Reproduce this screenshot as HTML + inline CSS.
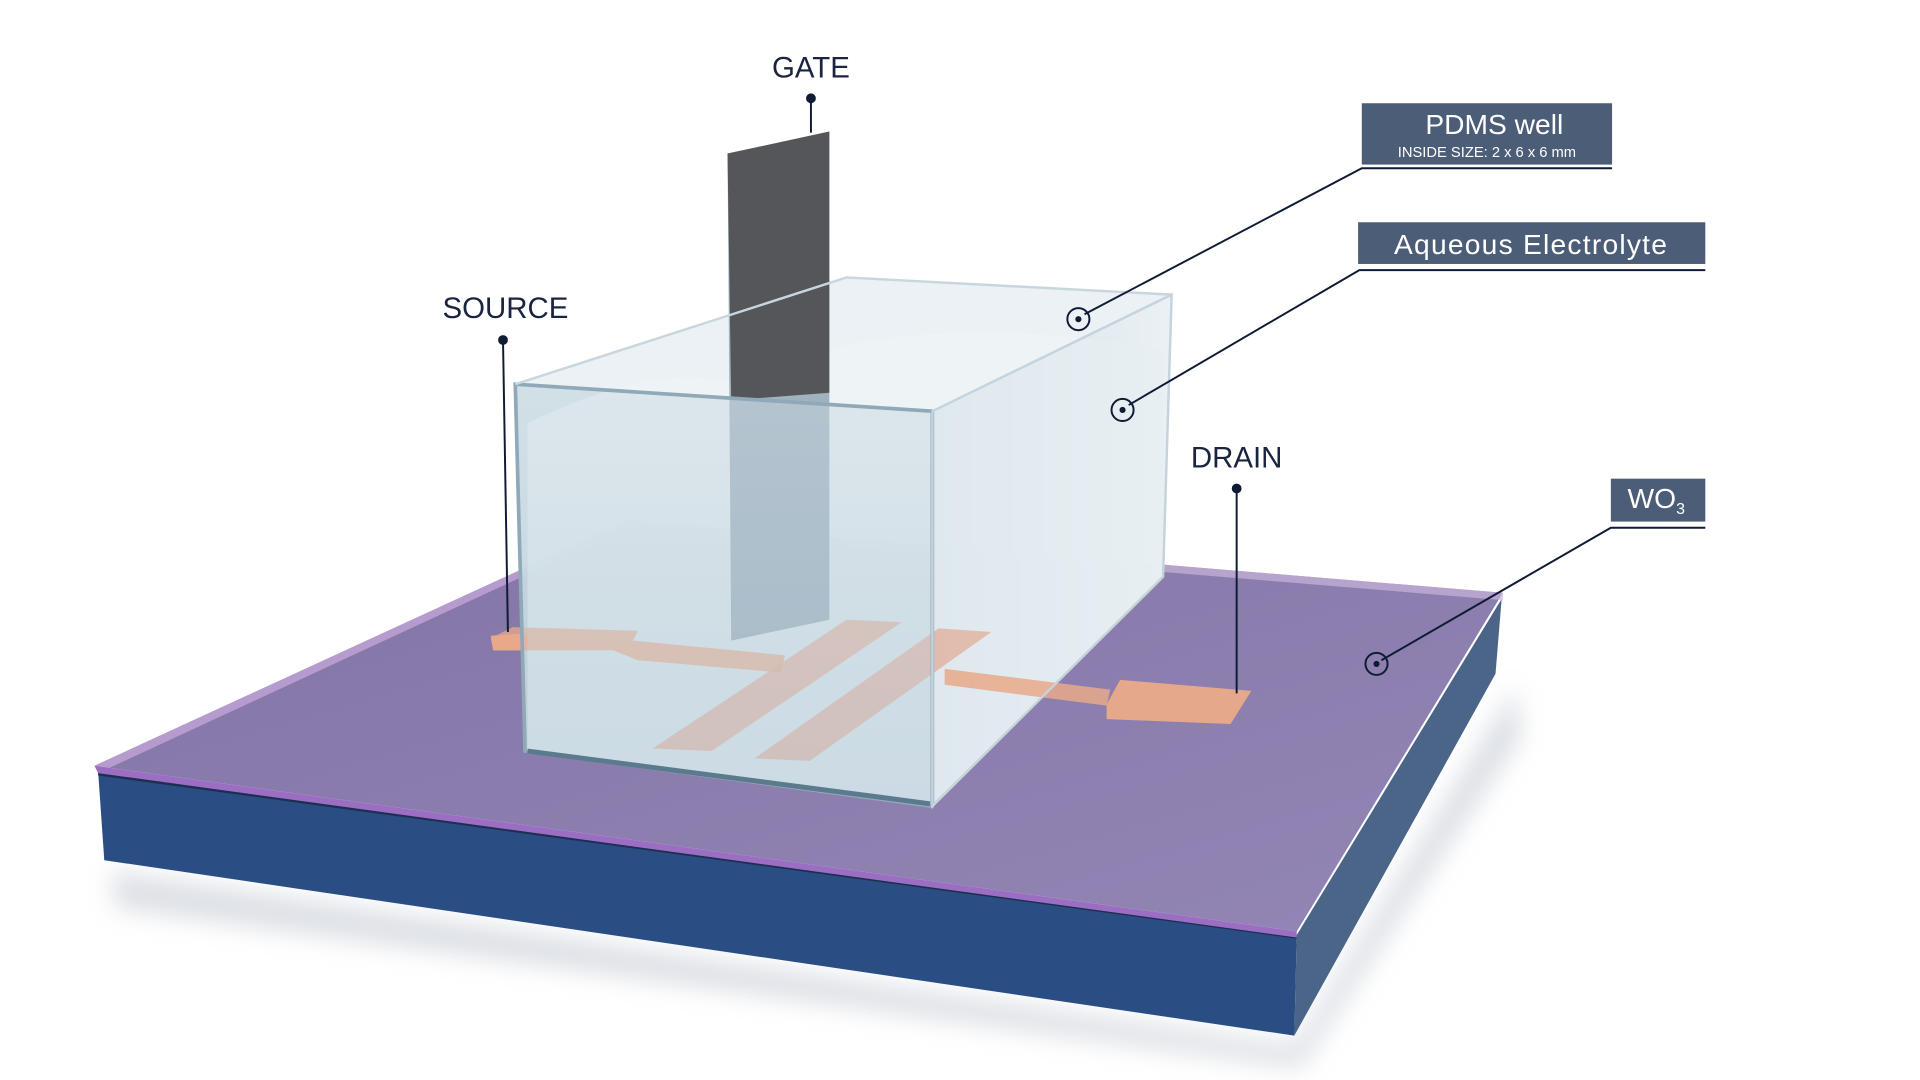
<!DOCTYPE html>
<html><head><meta charset="utf-8"><style>
html,body{margin:0;padding:0;background:#fff;width:1920px;height:1080px;overflow:hidden}
svg{display:block}
text{font-family:"Liberation Sans",sans-serif}
</style></head><body>
<svg width="1920" height="1080" viewBox="0 0 1565 880" xmlns="http://www.w3.org/2000/svg">
<defs>
<filter id="bl" x="-20%" y="-20%" width="140%" height="140%"><feGaussianBlur stdDeviation="10"/></filter>
<linearGradient id="water" x1="0" y1="0" x2="0" y2="1">
<stop offset="0" stop-color="#dce7ed"/><stop offset="0.5" stop-color="#c3d5df"/><stop offset="1" stop-color="#b2cad8"/></linearGradient>
<linearGradient id="side" x1="0" y1="0" x2="1" y2="0">
<stop offset="0" stop-color="#d3e0e8"/><stop offset="1" stop-color="#eef3f6"/></linearGradient>
<linearGradient id="purp" x1="0" y1="0" x2="1" y2="1">
<stop offset="0" stop-color="#8274a5"/><stop offset="1" stop-color="#9386b5"/></linearGradient>
</defs>
<polygon points="90,710 1055,852 1235,560 1240,600 1060,870 95,740" fill="#b8bfcc" opacity="0.5" filter="url(#bl)"/>
<polygon points="80,629 1057,762 1055,844 85,701" fill="#2a4e84"/>
<polygon points="1057,762 1224,488 1219,549 1055,844" fill="#4a6587"/>
<polygon points="80,629 1057,762 1057,765 80,632" fill="#1c2f50"/>
<polygon points="77,624 512,424 1225,483 1057,759" fill="url(#purp)"/>
<polygon points="77,624 512,424 512,430 80,630" fill="#c2a4d8" opacity="0.8"/>
<polygon points="512,424 1225,483 1225,489 512,430" fill="#c9b3db" opacity="0.7"/>
<polygon points="77,624 1057,759 1057,764 80,630" fill="#9b6ec4"/>
<!-- box interior (opaque-ish water) -->
<polygon points="420,313 690,226 955,240 948,470 760,657 428,612" fill="#c8d9e2" opacity="0.92"/>
<polygon points="760,335 955,240 948,470 760,657" fill="url(#side)" opacity="0.9"/>
<path d="M430,345 C480,320 540,300 590,310 C650,290 700,275 760,272 C830,268 900,275 948,285 L948,470 L760,655 L430,612 Z" fill="#e6eef2" opacity="0.6"/>
<polygon points="420,313 690,226 955,240 760,335" fill="#f2f6f8" opacity="0.8"/>
<polygon points="400,520 418,511 520,514 516,522 640,534 636,548 520,538 500,530 402,530" fill="#e8a98a" opacity="0.75"/>
<polygon points="690,505 735,507 580,612 532,610" fill="#e2ae98" opacity="0.75"/>
<polygon points="765,512 808,515 660,620 615,618" fill="#e2ae98" opacity="0.75"/>
<polygon points="770,545 905,562 902,575 770,558" fill="#e8a98a" opacity="0.85"/>
<polygon points="913,554 1020,563 1003,590 902,586 902,574" fill="#e6a88a"/>
<polygon points="400,518 430,516 430,530 402,530" fill="#e8a98a"/>
<!-- gate -->
<polygon points="593,125 676,107 676,505 596,522" fill="#9fb2c0"/>
<polygon points="593,125 676,107 676,320 596,326" fill="#555659"/>
<!-- front glass -->
<polygon points="420,313 760,335 760,657 428,612" fill="url(#water)" opacity="0.35"/>
<polygon points="420,313 760,335 760,657 428,612" fill="none" stroke="#8fa9b8" stroke-width="3"/>
<polygon points="760,335 955,240 948,470 760,657" fill="none" stroke="#c4d3dc" stroke-width="2"/>
<polyline points="420,313 690,226 955,240" fill="none" stroke="#c8d6de" stroke-width="2"/>
<line x1="430" y1="612" x2="758" y2="655" stroke="#5c7a8e" stroke-width="4"/>
<g fill="#1a2340" font-size="24" text-anchor="middle">
<text x="661" y="63">GATE</text>
<text x="412" y="259">SOURCE</text>
<text x="1008" y="381">DRAIN</text>
</g>
<g stroke="#0f1a33" stroke-width="1.6" fill="none">
<line x1="661" y1="80" x2="661" y2="108"/>
<line x1="410" y1="277" x2="414" y2="515"/>
<line x1="1008" y1="398" x2="1008" y2="565"/>
<polyline points="1314,137 1110,137 884,256"/>
<polyline points="1390,220 1108,220 920,330"/>
<polyline points="1390,430 1313,430 1126,538"/>
<circle cx="879" cy="260" r="9"/>
<circle cx="915" cy="334" r="9"/>
<circle cx="1122" cy="541" r="9"/>
</g>
<g fill="#0f1a33">
<circle cx="661" cy="80" r="4"/><circle cx="410" cy="277" r="4"/><circle cx="1008" cy="398" r="4"/>
<circle cx="879" cy="260" r="2.5"/><circle cx="915" cy="334" r="2.5"/><circle cx="1122" cy="541" r="2.5"/>
</g>
<rect x="1110" y="84" width="204" height="50" fill="#4c5d78"/>
<rect x="1107" y="181" width="283" height="34" fill="#4c5d78"/>
<rect x="1313" y="390" width="77" height="35" fill="#4c5d78"/>
<g fill="#fff" text-anchor="middle">
<text x="1218" y="109" font-size="23">PDMS well</text>
<text x="1212" y="128" font-size="12">INSIDE SIZE:  2 x 6 x 6 mm</text>
<text x="1248" y="207" font-size="23" letter-spacing="1">Aqueous Electrolyte</text>
<text x="1350" y="414" font-size="23">WO<tspan font-size="13" dy="5">3</tspan></text>
</g>
</svg>
</body></html>
